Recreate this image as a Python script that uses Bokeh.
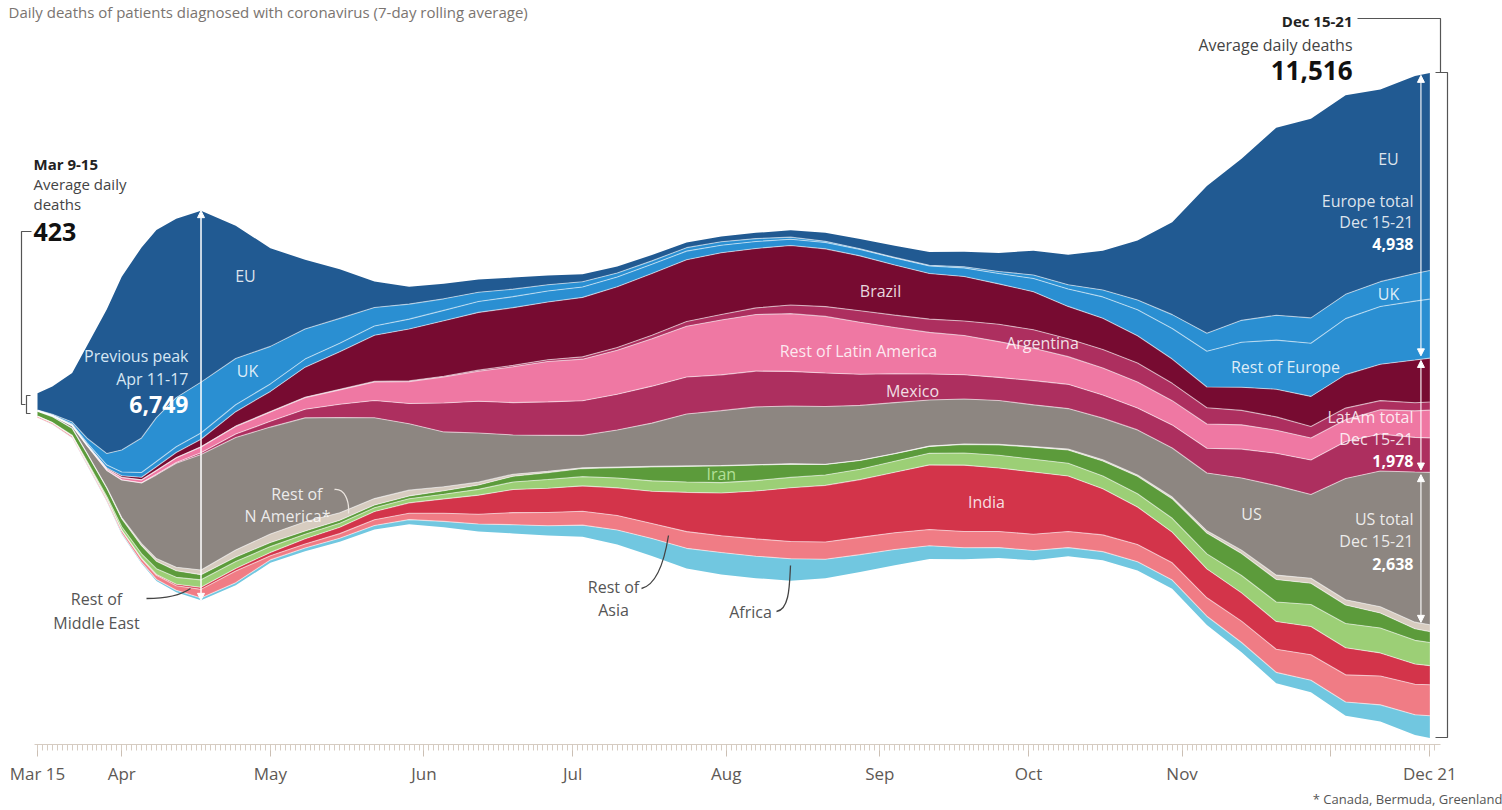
import numpy as np
import pandas as pd
from bokeh.plotting import figure
from bokeh.models import Range1d, FixedTicker, Title, Arrow, NormalHead
from bokeh.core.properties import value
from bokeh.embed import file_html
from bokeh.resources import INLINE

# ---------------- data (7-day rolling average of daily deaths) ----------------
dates = ["2020-03-15", "2020-03-18", "2020-03-22", "2020-03-25", "2020-03-29", "2020-04-01",
         "2020-04-05", "2020-04-08", "2020-04-12", "2020-04-17",
         "2020-04-24", "2020-05-01", "2020-05-08", "2020-05-15", "2020-05-22", "2020-05-29",
         "2020-06-05", "2020-06-12", "2020-06-19", "2020-06-26", "2020-07-03", "2020-07-10",
         "2020-07-17", "2020-07-24", "2020-07-31", "2020-08-07", "2020-08-14", "2020-08-21",
         "2020-08-28", "2020-09-04", "2020-09-11", "2020-09-18", "2020-09-25", "2020-10-02",
         "2020-10-09", "2020-10-16", "2020-10-23", "2020-10-30", "2020-11-06", "2020-11-13",
         "2020-11-20", "2020-11-27", "2020-12-04", "2020-12-11", "2020-12-18", "2020-12-21"]

eu = [291, 480, 850, 1600, 2500, 3000, 3300, 3250, 3100, 2970,
      2300, 1700, 1200, 850, 450, 300, 260, 220, 200, 160, 130, 110, 100, 90, 90, 100, 120, 150,
      170, 200, 230, 260, 320, 420, 520, 680, 1030, 1600, 2550, 2800, 3250, 3450, 3450, 3330, 3420, 3420]
uk = [5, 12, 35, 80, 200, 380, 600, 760, 850, 880,
      800, 650, 520, 430, 320, 260, 200, 160, 130, 110, 90, 70, 60, 60, 60, 50, 35, 20,
      12, 10, 12, 20, 35, 60, 75, 120, 170, 240, 310, 380, 430, 440, 420, 430, 480, 495]
rest_europe = [5, 8, 20, 30, 50, 65, 80, 90, 100, 110,
               120, 130, 140, 150, 160, 170, 180, 190, 190, 190, 180, 170, 160, 150, 130, 120, 110, 110,
               110, 120, 130, 150, 180, 230, 300, 370, 450, 530, 620, 780, 850, 920, 970, 1000, 1020, 1023]
brazil = [0, 0, 2, 5, 15, 30, 45, 65, 90, 130,
          250, 350, 520, 650, 800, 900, 960, 1000, 1000, 1000, 1030, 1050, 1070, 1070, 1070, 1030, 1030, 1000,
          950, 870, 790, 770, 700, 660, 560, 540, 470, 420, 360, 400, 480, 520, 580, 630, 740, 760]
argentina = [0, 0, 0, 0, 1, 1, 2, 2, 3, 4,
             6, 8, 8, 8, 10, 12, 15, 20, 25, 30, 40, 50, 60, 80, 95, 115, 150, 170,
             200, 215, 230, 250, 300, 320, 310, 320, 330, 300, 280, 250, 230, 200, 200, 160, 140, 140]
rest_latam = [2, 4, 8, 14, 25, 40, 50, 65, 80, 100,
              130, 160, 200, 250, 320, 380, 450, 520, 620, 700, 720, 760, 820, 880, 950, 980, 1000, 980,
              900, 800, 720, 680, 620, 560, 480, 470, 450, 420, 420, 420, 400, 380, 380, 420, 460, 480]
mexico = [0, 0, 0, 1, 1, 3, 5, 10, 15, 30,
          60, 100, 150, 230, 300, 350, 500, 550, 560, 580, 600, 620, 640, 640, 620, 620, 600, 580,
          540, 500, 450, 420, 400, 420, 420, 400, 380, 400, 430, 500, 560, 600, 640, 640, 600, 598]
us = [8, 15, 40, 130, 300, 650, 1050, 1450, 1800, 2000,
      1950, 1850, 1800, 1650, 1400, 1150, 950, 850, 680, 620, 560, 640, 750, 900, 950, 1000, 1000, 1000,
      950, 880, 800, 780, 760, 720, 700, 720, 780, 850, 1000, 1250, 1550, 1450, 2100, 2350, 2600, 2638]
rest_n_america = [1, 1, 2, 5, 10, 20, 35, 45, 60, 80,
                  120, 150, 160, 130, 110, 100, 70, 50, 35, 25, 15, 12, 10, 8, 6, 6, 6, 6,
                  5, 5, 5, 6, 8, 12, 18, 22, 25, 28, 40, 60, 75, 85, 90, 110, 115, 120]
iran = [80, 100, 120, 135, 140, 140, 140, 130, 115, 90,
        80, 70, 55, 50, 50, 50, 60, 75, 100, 120, 140, 180, 240, 270, 290, 270, 230, 180,
        150, 130, 120, 150, 180, 210, 230, 260, 300, 340, 360, 380, 390, 370, 320, 260, 200, 190]
rest_middle_east = [5, 8, 15, 25, 40, 60, 80, 100, 120, 130,
                    120, 100, 80, 70, 65, 70, 80, 100, 130, 150, 160, 170, 180, 180, 180, 180, 180, 180,
                    180, 190, 200, 210, 220, 220, 220, 220, 230, 240, 260, 300, 340, 380, 420, 430, 410, 400]
india = [0, 0, 1, 1, 3, 5, 10, 15, 25, 35,
         45, 60, 90, 110, 140, 180, 250, 330, 400, 420, 440, 480, 560, 680, 740, 830, 930, 980,
         1000, 1050, 1120, 1150, 1100, 1080, 960, 800, 650, 530, 500, 490, 480, 490, 470, 400, 350, 330]
rest_asia = [25, 25, 30, 35, 40, 50, 60, 70, 80, 150,
             200, 70, 70, 80, 100, 110, 140, 170, 210, 230, 240, 250, 260, 290, 290, 300, 300, 300,
             300, 290, 280, 280, 280, 280, 280, 290, 300, 300, 320, 370, 400, 440, 470, 500, 530, 537]
africa = [1, 2, 3, 5, 10, 15, 20, 28, 35, 40,
          45, 50, 55, 60, 70, 80, 100, 130, 150, 170, 200, 250, 300, 350, 380, 380, 380, 330,
          300, 270, 230, 200, 180, 170, 150, 150, 150, 150, 150, 170, 190, 210, 240, 290, 350, 385]

# stacking order, bottom to top
regions = ["Africa", "Rest of Asia", "India", "Rest of Middle East", "Iran", "Rest of N America",
           "US", "Mexico", "Rest of Latin America", "Argentina", "Brazil", "Rest of Europe", "UK", "EU"]
series = [africa, rest_asia, india, rest_middle_east, iran, rest_n_america,
          us, mexico, rest_latam, argentina, brazil, rest_europe, uk, eu]
colors = ["#71c7e0", "#f07c85", "#d3344a", "#9ccf76", "#5c9b3b", "#d7ccc0",
          "#8d8681", "#ad2f5f", "#ef78a3", "#ad2f5f", "#770b31", "#2a8fd2", "#2a8fd2", "#215a92"]

tick_dates = ["2020-03-15", "2020-04-01", "2020-05-01", "2020-06-01", "2020-07-01", "2020-08-01",
              "2020-09-01", "2020-10-01", "2020-11-01", "2020-12-01", "2020-12-21"]
tick_labels = ["Mar 15", "Apr", "May", "Jun", "Jul", "Aug", "Sep", "Oct", "Nov", "", "Dec 21"]

# ---------------- computation ----------------
origin = pd.Timestamp("2020-03-15")
days = np.array((pd.to_datetime(dates) - origin).days, dtype=float)
tick_days = [float(d) for d in (pd.to_datetime(tick_dates) - origin).days]
V = np.array(series, dtype=float)
total = V.sum(axis=0)
base = -total / 2.0                     # silhouette (centred) streamgraph
cum = base + np.vstack([np.zeros(len(days)), np.cumsum(V, axis=0)])

# ---------------- layout ----------------
PX_PER_DAY = 4.955
DEATHS_PER_PX = 17.32
FRAME_W, FRAME_H = 1502, 744
x_start = -37 / PX_PER_DAY
x_end = x_start + FRAME_W / PX_PER_DAY
y_end = 405 * DEATHS_PER_PX
y_start = y_end - FRAME_H * DEATHS_PER_PX


def X(px):
    return x_start + px / PX_PER_DAY


def Y(py):
    return y_end - py * DEATHS_PER_PX


p = figure(frame_width=FRAME_W, frame_height=FRAME_H,
           x_range=Range1d(x_start, x_end), y_range=Range1d(y_start, y_end),
           output_backend="svg", toolbar_location=None, min_border=0,
           y_axis_location=None, outline_line_color=None, background_fill_color="white")
p.grid.visible = False

for k in range(len(series)):
    p.varea(x=days, y1=cum[k], y2=cum[k + 1], fill_color=colors[k])
for k in range(1, len(series)):
    p.line(days, cum[k], line_color="white", line_alpha=0.55, line_width=1.1)

ax = p.xaxis[0]
ax.ticker = FixedTicker(ticks=tick_days, minor_ticks=list(range(0, 283)))
ax.major_label_overrides = {d: lab for d, lab in zip(tick_days, tick_labels)}
ax.bounds = (X(34), X(1440))
ax.axis_line_color = "#d6ccc2"
ax.major_tick_line_color = "#cbbfb4"
ax.minor_tick_line_color = "#d6ccc2"
ax.major_tick_out = 12
ax.major_tick_in = 0
ax.minor_tick_out = 6
ax.minor_tick_in = 0
ax.major_label_standoff = 5
ax.major_label_text_font = "Open Sans"
ax.major_label_text_font_size = "17px"
ax.major_label_text_color = "#5e5955"

p.add_layout(Title(text="* Canada, Bermuda, Greenland", align="right", text_font_size="13px",
                   text_color="#555555", text_font="Open Sans", text_font_style="normal",
                   standoff=0), "below")


def txt(px, py, s, size=16, color="white", align="center", bold=False, alpha=1.0):
    p.text(x=[X(px)], y=[Y(py)], text=[s], text_font=value("Open Sans"),
           text_font_size=f"{size}px", text_color=color, text_align=align,
           text_baseline="middle", text_font_style="bold" if bold else "normal",
           text_alpha=alpha)


def pl(points, color="#555555", width=1.2):
    p.line([X(a) for a, b in points], [Y(b) for a, b in points], line_color=color, line_width=width)


def curve(x0, y0, x1, y1, cx0, cy0, cx1, cy1, color):
    p.bezier(x0=[X(x0)], y0=[Y(y0)], x1=[X(x1)], y1=[Y(y1)], cx0=[X(cx0)], cy0=[Y(cy0)],
             cx1=[X(cx1)], cy1=[Y(cy1)], line_color=color, line_width=1.3)


def head():
    return NormalHead(size=7, fill_color="white", line_color="white")


# title (cut at the top in the original)
txt(8, 11, "Daily deaths of patients diagnosed with coronavirus (7-day rolling average)",
    size=15, color="#7a7470", align="left")

# left annotation
txt(33, 163, "Mar 9-15", size=15, color="#222222", align="left", bold=True)
txt(33, 183, "Average daily", size=15, color="#444444", align="left")
txt(33, 203, "deaths", size=15, color="#444444", align="left")
txt(33, 231, "423", size=25, color="#111111", align="left", bold=True)
pl([(31, 231), (21, 231), (21, 404), (25, 404)])
pl([(30, 395), (26, 395), (26, 413), (30, 413)])

# right annotation
txt(1352, 20, "Dec 15-21", size=15, color="#222222", align="right", bold=True)
txt(1352, 44, "Average daily deaths", size=16, color="#444444", align="right")
txt(1352, 70, "11,516", size=26, color="#111111", align="right", bold=True)
pl([(1357, 18), (1440, 18), (1440, 72)])
pl([(1435, 72), (1447, 72), (1447, 737), (1435, 737)])

# previous peak arrow
i_pk = dates.index("2020-04-17")
p.add_layout(Arrow(x_start=days[i_pk], y_start=cum[0, i_pk], x_end=days[i_pk], y_end=cum[-1, i_pk],
                   start=head(), end=head(), line_color="white", line_width=1.5))
txt(188, 355, "Previous peak", color="#d6e6f3", align="right")
txt(188, 378, "Apr 11-17", color="#d6e6f3", align="right")
txt(188, 404, "6,749", size=23, color="white", align="right", bold=True)

# right-hand total arrows
xr = days[-1] - 1.8
gap = 40
for lo, hi in [(11, 14), (7, 11), (6, 7)]:
    p.add_layout(Arrow(x_start=xr, y_start=cum[lo, -1] + gap, x_end=xr, y_end=cum[hi, -1] - gap,
                       start=head(), end=head(), line_color="white", line_width=1.1))

# Iran label sits in the middle of its band
i_ir = dates.index("2020-07-31")
p.text(x=[days[i_ir]], y=[(cum[4, i_ir] + cum[5, i_ir]) / 2], text=["Iran"],
       text_font=value("Open Sans"), text_font_size="16px", text_color="#b3e098",
       text_align="center", text_baseline="middle")

# layer labels
lab_alpha = 0.85
txt(245, 275, "EU", alpha=lab_alpha)
txt(247, 370, "UK", alpha=lab_alpha)
txt(880, 290, "Brazil", alpha=lab_alpha)
txt(858, 350, "Rest of Latin America", alpha=lab_alpha)
txt(1042, 342, "Argentina", alpha=lab_alpha)
txt(912, 390, "Mexico", alpha=lab_alpha)
txt(986, 501, "India", alpha=lab_alpha)
txt(1251, 513, "US", alpha=lab_alpha)
txt(1285, 366, "Rest of Europe", alpha=lab_alpha)
txt(1388, 158, "EU", alpha=lab_alpha)
txt(1388, 293, "UK", alpha=lab_alpha)
txt(1413, 200, "Europe total", align="right", alpha=lab_alpha)
txt(1413, 221, "Dec 15-21", align="right", alpha=lab_alpha)
txt(1413, 243, "4,938", align="right", bold=True)
txt(1413, 416, "LatAm total", align="right", alpha=lab_alpha)
txt(1413, 438, "Dec 15-21", align="right", alpha=lab_alpha)
txt(1413, 460, "1,978", align="right", bold=True)
txt(1413, 518, "US total", align="right", alpha=lab_alpha)
txt(1413, 540, "Dec 15-21", align="right", alpha=lab_alpha)
txt(1413, 563, "2,638", align="right", bold=True)
txt(322, 493, "Rest of", align="right", alpha=lab_alpha)
txt(330, 515, "N America*", align="right", alpha=lab_alpha)
curve(334, 489, 348, 513, 344, 488, 349, 500, "#ece6e0")

txt(96, 598, "Rest of", color="#555555")
txt(96, 622, "Middle East", color="#555555")
curve(146, 598, 190, 588, 165, 598, 180, 595, "#444444")
txt(613, 586, "Rest of", color="#555555")
txt(613, 609, "Asia", color="#555555")
curve(641, 588, 668, 535, 657, 584, 664, 560, "#444444")
txt(750, 611, "Africa", color="#555555")
curve(776, 611, 790, 565, 789, 609, 789, 585, "#444444")

open("out.html", "w").write(file_html(p, INLINE, "Daily deaths"))
